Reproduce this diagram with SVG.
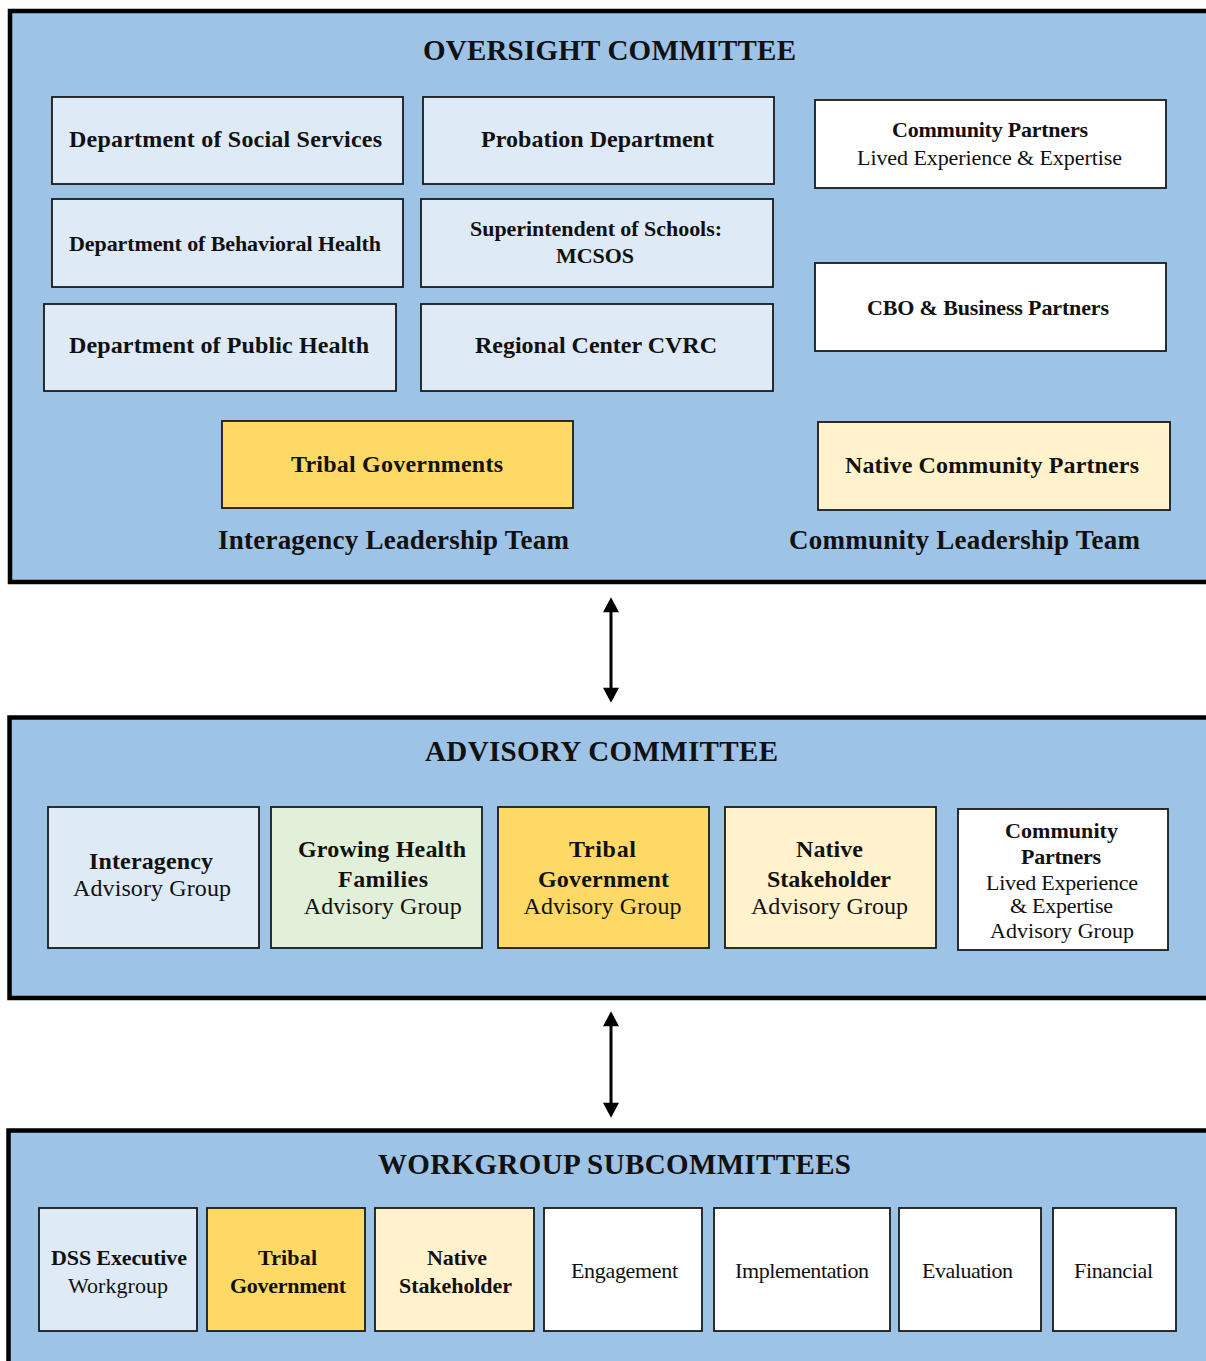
<svg xmlns="http://www.w3.org/2000/svg" width="1206" height="1361" viewBox="0 0 1206 1361">
<style>
.panel{fill:#9DC3E6;stroke:#000;stroke-width:4.5}
.box{stroke:#1a1a1a;stroke-width:1.8}
.lb{fill:#DEEAF6}
.yl{fill:#FFD966}
.cr{fill:#FFF2CC}
.gr{fill:#E2EFD9}
.wh{fill:#FFFFFF}
text{font-family:"Liberation Serif","Times New Roman",serif;fill:#111;text-anchor:middle}
.t{font-size:29px;font-weight:bold}
.b23{font-size:23px;font-weight:bold}
.b22{font-size:22px;font-weight:bold}
.r22{font-size:22px}
.b24{font-size:24px;font-weight:bold}
.r24{font-size:24px}
.b27{font-size:27px;font-weight:bold}
.conn{stroke:#000;stroke-width:3;fill:none}
</style>
<defs>
<marker id="ah" markerUnits="userSpaceOnUse" markerWidth="16" markerHeight="16" viewBox="0 0 14 15" refX="4" refY="7.5" orient="auto-start-reverse">
<path d="M0,0 L14,7.5 L0,15 z" fill="#000"/>
</marker>
<clipPath id="cpaClip"><rect x="958" y="809" width="210" height="134"/></clipPath>
</defs>

<g id="oversight">
<rect class="panel" x="10" y="11" width="1210" height="571"/>
<text class="t" x="609.5" y="60" textLength="373">OVERSIGHT COMMITTEE</text>
</g>
<g id="dss">
<rect class="box lb" x="52" y="97" width="351" height="87"/>
<text class="b24" x="225.5" y="147" textLength="313">Department of Social Services</text>
</g>
<g id="probation">
<rect class="box lb" x="423" y="97" width="351" height="87"/>
<text class="b24" x="597.5" y="147" textLength="233">Probation Department</text>
</g>
<g id="behavioral">
<rect class="box lb" x="52" y="199" width="351" height="88"/>
<text class="b22" x="225" y="251" textLength="312">Department of Behavioral Health</text>
</g>
<g id="superintendent">
<rect class="box lb" x="421" y="199" width="352" height="88"/>
<text class="b22" x="596" y="236" textLength="252">Superintendent of Schools:</text>
<text class="b22" x="595" y="263" textLength="78">MCSOS</text>
</g>
<g id="publichealth">
<rect class="box lb" x="44" y="304" width="352" height="87"/>
<text class="b24" x="219" y="353" textLength="300">Department of Public Health</text>
</g>
<g id="regional">
<rect class="box lb" x="421" y="304" width="352" height="87"/>
<text class="b24" x="596" y="353" textLength="242">Regional Center CVRC</text>
</g>
<g id="communitypartners">
<rect class="box wh" x="815" y="100" width="351" height="88"/>
<text class="b22" x="990" y="137" textLength="196">Community Partners</text>
<text class="r22" x="989.5" y="165" textLength="265">Lived Experience &amp; Expertise</text>
</g>
<g id="cbo">
<rect class="box wh" x="815" y="263" width="351" height="88"/>
<text class="b22" x="988" y="315" textLength="242">CBO &amp; Business Partners</text>
</g>
<g id="tribalgov">
<rect class="box yl" x="222" y="421" width="351" height="87"/>
<text class="b24" x="397" y="472" textLength="212">Tribal Governments</text>
</g>
<g id="nativecommunity">
<rect class="box cr" x="818" y="422" width="352" height="88"/>
<text class="b24" x="992" y="473" textLength="294">Native Community Partners</text>
</g>
<g id="labels-top">
<text class="b27" x="393.5" y="549" textLength="351">Interagency Leadership Team</text>
<text class="b27" x="964.5" y="549" textLength="351">Community Leadership Team</text>
</g>

<g id="advisory">
<rect class="panel" x="9.5" y="717.5" width="1210" height="280.5"/>
<text class="t" x="601.5" y="761" textLength="353">ADVISORY COMMITTEE</text>
</g>
<g id="interagency-ag">
<rect class="box lb" x="48" y="807" width="211" height="141"/>
<text class="b24" x="151" y="869" textLength="124">Interagency</text>
<text class="r24" x="152" y="896" textLength="158">Advisory Group</text>
</g>
<g id="growing-ag">
<rect class="box gr" x="271" y="807" width="211" height="141"/>
<text class="b24" x="382" y="857" textLength="168">Growing Health</text>
<text class="b24" x="383" y="887" textLength="90">Families</text>
<text class="r24" x="382.7" y="914" textLength="158">Advisory Group</text>
</g>
<g id="tribal-ag">
<rect class="box yl" x="498" y="807" width="211" height="141"/>
<text class="b24" x="602.5" y="857" textLength="67">Tribal</text>
<text class="b24" x="603.5" y="887" textLength="131">Government</text>
<text class="r24" x="602.5" y="914" textLength="158">Advisory Group</text>
</g>
<g id="native-ag">
<rect class="box cr" x="725" y="807" width="211" height="141"/>
<text class="b24" x="829.5" y="857" textLength="67">Native</text>
<text class="b24" x="829" y="887" textLength="124">Stakeholder</text>
<text class="r24" x="829.5" y="914" textLength="157">Advisory Group</text>
</g>
<g id="community-ag">
<rect class="box wh" x="958" y="809" width="210" height="141"/>
<g clip-path="url(#cpaClip)">
<text class="b22" x="1061.5" y="838" textLength="113">Community</text>
<text class="b22" x="1061" y="864" textLength="80">Partners</text>
<text class="r22" x="1062" y="890" textLength="152">Lived Experience</text>
<text class="r22" x="1061.5" y="913" textLength="103">&amp; Expertise</text>
<text class="r22" x="1062" y="938" textLength="144">Advisory Group</text>
</g>
</g>

<g id="workgroup">
<rect class="panel" x="8.5" y="1130.5" width="1210" height="260"/>
<text class="t" x="614.5" y="1174" textLength="473">WORKGROUP SUBCOMMITTEES</text>
</g>
<g id="dss-wg">
<rect class="box lb" x="39" y="1208" width="158" height="123"/>
<text class="b22" x="119" y="1265" textLength="136">DSS Executive</text>
<text class="r22" x="118" y="1293" textLength="100">Workgroup</text>
</g>
<g id="tribal-wg">
<rect class="box yl" x="207" y="1208" width="158" height="123"/>
<text class="b22" x="287.5" y="1265" textLength="59">Tribal</text>
<text class="b22" x="288" y="1293" textLength="116">Government</text>
</g>
<g id="native-wg">
<rect class="box cr" x="375" y="1208" width="159" height="123"/>
<text class="b22" x="457" y="1265" textLength="60">Native</text>
<text class="b22" x="455.5" y="1293" textLength="113">Stakeholder</text>
</g>
<g id="engagement">
<rect class="box wh" x="544" y="1208" width="158" height="123"/>
<text class="r22" x="624.5" y="1278" textLength="107">Engagement</text>
</g>
<g id="implementation">
<rect class="box wh" x="714" y="1208" width="176" height="123"/>
<text class="r22" x="802" y="1278" textLength="134">Implementation</text>
</g>
<g id="evaluation">
<rect class="box wh" x="899" y="1208" width="142" height="123"/>
<text class="r22" x="967.5" y="1278" textLength="91">Evaluation</text>
</g>
<g id="financial">
<rect class="box wh" x="1053" y="1208" width="123" height="123"/>
<text class="r22" x="1113.5" y="1278" textLength="79">Financial</text>
</g>

<g id="connectors">
<line class="conn" x1="611" y1="608" x2="611" y2="692" marker-start="url(#ah)" marker-end="url(#ah)"/>
<line class="conn" x1="611" y1="1022" x2="611" y2="1107" marker-start="url(#ah)" marker-end="url(#ah)"/>
</g>
</svg>
